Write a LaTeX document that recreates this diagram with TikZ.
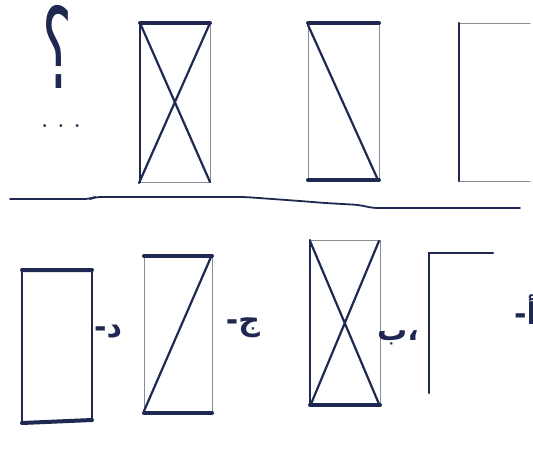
\documentclass[tikz,border=0pt]{standalone}
\usepackage{fontspec}
\newfontfamily\arabicfont[Script=Arabic]{DejaVu Sans}
\TeXXeTstate=1
\definecolor{InkBlue}{HTML}{1E2850}
\definecolor{InkGray}{HTML}{8A8C94}

\begin{document}
\begin{tikzpicture}[x=1pt,y=-1pt,line cap=round,
  thk/.style={InkBlue,line width=4pt},
  drk/.style={InkBlue,line width=2.2pt},
  thn/.style={InkGray,line width=1pt},
  lbl/.style={InkBlue,inner sep=0pt,font=\arabicfont\bfseries\fontsize{30}{30}\selectfont}]
  \useasboundingbox (0,0) rectangle (533,464);

  % top row: the sequence
  \node[InkBlue,inner sep=0pt,text height=80pt,text depth=0pt,anchor=base,xscale=0.5,font=\arabicfont\fontsize{112}{112}\selectfont] (qm) at (57,88) {\beginR ؟\endR};
  \node[InkBlue,inner sep=0pt,text height=4pt,text depth=0pt,font=\bfseries\fontsize{20}{20}\selectfont] (dots) at (61,125) {. . .};

  \draw[thn] (140,182) -- (210,182) -- (210,23);
  \draw[drk] (140,23) -- (140,182);
  \draw[drk] (140,23) -- (210,182) (210,23) -- (139,183);
  \draw[thk] (140,23) -- (210,23);

  \draw[thn] (308,23) -- (308,180) (379,23) -- (379,180);
  \draw[drk] (308,25) -- (378,180);
  \draw[thk] (308,23) -- (379,23) (308,180) -- (379,180);

  \draw[thn] (459,23) -- (530,23) (459,181) -- (530,181);
  \draw[drk] (459,23) -- (459,181);

  % separator
  \draw[InkBlue,line width=1.8pt,rounded corners=6pt]
    (10,199) -- (90,199) -- (95,197) -- (245,197) -- (300,201) -- (325,203)
    -- (360,205) -- (372,208) -- (520,208);

  % bottom row: the choices
  \draw[drk] (22,270) -- (22,423) (92,270) -- (92,421);
  \draw[thk] (22,270) -- (92,270) (22,423) -- (92,420);
  \node[lbl] (d) at (108,332) {\beginR د-\endR};

  \draw[thn] (144,256) -- (144,413) (212,256) -- (212,413);
  \draw[drk] (144,411) -- (211,257);
  \draw[thk] (144,256) -- (212,256) (144,413) -- (212,413);
  \node[lbl] (j) at (243,328) {\beginR ج-\endR};

  \draw[thn] (310,240) -- (380,240) -- (380,405);
  \draw[drk] (310,240) -- (310,405);
  \draw[drk] (310,241) -- (379,404) (379,241) -- (311,404);
  \draw[thk] (310,405) -- (380,405);
  \node[lbl] (b) at (398,338) {\beginR ،ب\endR};

  \draw[drk] (429,393) -- (429,253) -- (493,253);
  \node[lbl,anchor=west] (a) at (514,310) {\beginR أ-\endR};
\end{tikzpicture}
\end{document}
